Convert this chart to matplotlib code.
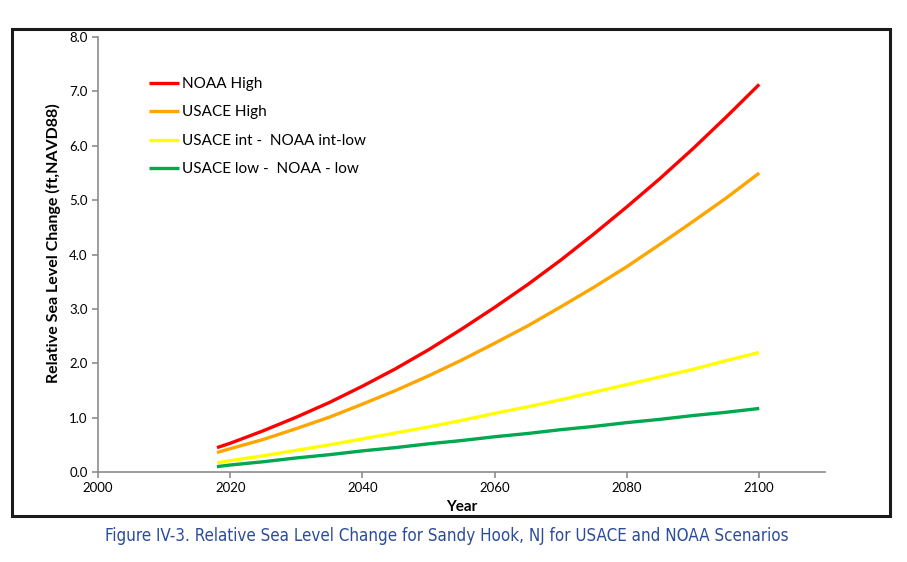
import matplotlib.pyplot as plt
from matplotlib.patches import Rectangle

# values (ft, NAVD88)
years = [2018, 2020, 2025, 2030, 2035, 2040, 2045, 2050, 2055, 2060,
         2065, 2070, 2075, 2080, 2085, 2090, 2095, 2100]
noaa_high = [0.45, 0.53, 0.76, 1.01, 1.28, 1.58, 1.90, 2.25, 2.63, 3.03,
             3.45, 3.90, 4.38, 4.88, 5.40, 5.95, 6.53, 7.13]
usace_high = [0.36, 0.43, 0.60, 0.80, 1.01, 1.25, 1.50, 1.77, 2.06, 2.37,
              2.69, 3.04, 3.40, 3.78, 4.19, 4.61, 5.04, 5.50]
usace_int = [0.17, 0.21, 0.30, 0.40, 0.50, 0.61, 0.72, 0.83, 0.95, 1.08,
             1.20, 1.33, 1.47, 1.61, 1.75, 1.89, 2.05, 2.20]
usace_low = [0.10, 0.13, 0.19, 0.26, 0.32, 0.39, 0.45, 0.52, 0.58, 0.65,
             0.71, 0.78, 0.84, 0.91, 0.97, 1.04, 1.10, 1.17]

series_names = ['NOAA High', 'USACE High', 'USACE int -  NOAA int-low', 'USACE low -  NOAA - low']
series_colors = ['#FF0000', '#FFA500', '#FFFF00', '#00A84F']
x_ticks = [2000, 2020, 2040, 2060, 2080, 2100]
y_ticks = [0, 1, 2, 3, 4, 5, 6, 7, 8]

plt.rcParams['font.family'] = ['Lato', 'DejaVu Sans']

fig = plt.figure(figsize=(9.07, 5.62), dpi=100)
ax = fig.add_axes([0.108, 0.160, 0.802, 0.774])

for vals, name, col in zip([noaa_high, usace_high, usace_int, usace_low], series_names, series_colors):
    ax.plot(years, vals, color=col, lw=2.4, label=name, solid_capstyle='butt')

ax.set_xlim(2000, 2110)
ax.set_ylim(0, 8)
ax.set_xticks(x_ticks)
ax.set_yticks(y_ticks)
ax.set_yticklabels([f'{v:.1f}' for v in y_ticks])

for s in ['top', 'right']:
    ax.spines[s].set_visible(False)
for s in ['left', 'bottom']:
    ax.spines[s].set_color('#8C8C8C')
    ax.spines[s].set_linewidth(1.2)
ax.tick_params(colors='#8C8C8C', labelcolor='black', length=4, width=1.2, labelsize=9.5)

ax.set_ylabel('Relative Sea Level Change (ft,NAVD88)', fontsize=11.5, fontweight='bold')
ax.yaxis.set_label_coords(-0.051, 0.526)
ax.set_xlabel('Year', fontsize=11, fontweight='bold', labelpad=4)

leg = ax.legend(loc='upper left', bbox_to_anchor=(0.051, 0.94), frameon=False, fontsize=11,
                handlelength=2.0, handletextpad=0.2, labelspacing=0.95)

# outer frame around the chart area
fig.patches.append(Rectangle((0.0132, 0.082), 0.968, 0.866, transform=fig.transFigure,
                             fill=False, edgecolor='#1A1A1A', lw=2.2))

fig.text(0.493, 0.047, 'Figure IV-3. Relative Sea Level Change for Sandy Hook, NJ for USACE and NOAA Scenarios',
         ha='center', va='center', fontsize=12.2, color='#2B4C9B',
         family='DejaVu Sans', fontstretch='condensed')

fig.savefig('out.png', dpi=100)
